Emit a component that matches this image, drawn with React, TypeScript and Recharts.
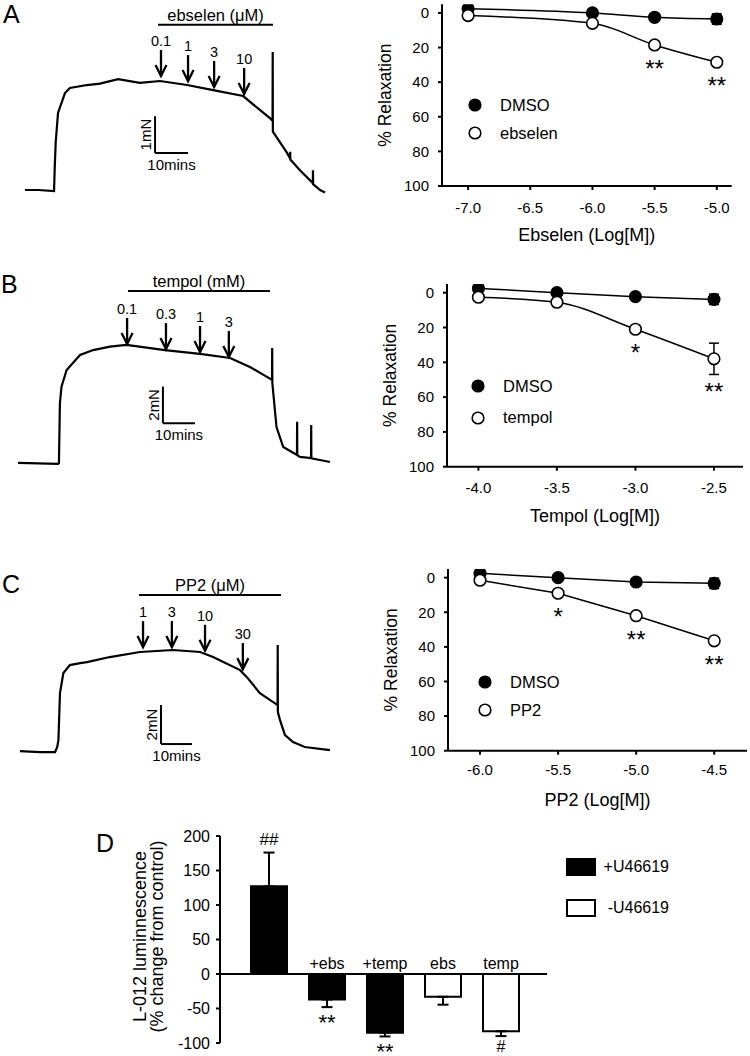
import React from 'react';
import {
  ComposedChart, BarChart, Bar, Line, Scatter, XAxis, YAxis, ReferenceLine,
  ErrorBar, LabelList, Legend, Cell,
} from 'recharts';

// ---------- tension traces: [time (min), force above baseline (mN)] ----------
const traceEbselen: [number, number][] = [
  [0, 0], [4, 0], [8.8, -0.03], [9.0, 0.6], [9.3, 1.3], [10.0, 2.1], [12.1, 2.64], [13.6, 2.78],
  [18.8, 2.86], [22.7, 2.9], [28.2, 3.02], [34.8, 2.92], [40.9, 2.97], [49.1, 2.86], [57.0, 2.72],
  [66.1, 2.56], [68.2, 2.4], [74.2, 1.96], [75.0, 1.88], [75.05, 3.76], [75.1, 1.59], [79.4, 1.01],
  [80.3, 0.86], [80.35, 1.04], [80.4, 0.83], [83.3, 0.54], [87.2, 0.19], [87.25, 0.54], [87.3, 0.16],
  [89.4, 0.0], [90.9, -0.07],
];
const traceTempol: [number, number][] = [
  [0, 0], [12.5, -0.05], [12.8, 0], [13.1, 3.26], [13.6, 4.16], [15.2, 5.07], [19.4, 5.89],
  [23.5, 6.16], [28.75, 6.35], [33.9, 6.44], [45.9, 6.16], [56.9, 5.95], [66.3, 5.73], [72.5, 5.24],
  [79.4, 4.53], [79.45, 6.27], [79.5, 4.36], [80.8, 1.96], [82.9, 0.87], [86.0, 0.56], [87.2, 0.44],
  [87.25, 2.25], [87.3, 0.42], [88.1, 0.33], [91.6, 0.27], [91.65, 2.07], [91.7, 0.25], [94.4, 0.16],
  [97.5, 0.05],
];
const tracePP2: [number, number][] = [
  [0, 0], [6.5, -0.05], [11.3, -0.05], [12.0, 0.2], [12.4, 0.56], [12.9, 2.97], [14.0, 4.0],
  [16.1, 4.41], [19.4, 4.51], [21.6, 4.56], [29.0, 4.82], [38.7, 5.08], [49.4, 5.18], [58.1, 5.08],
  [62.3, 4.82], [71.0, 4.15], [73.2, 3.79], [77.4, 2.97], [83.1, 2.36], [83.15, 5.44], [83.2, 2.0],
  [83.9, 1.59], [85.5, 0.82], [88.1, 0.46], [91.9, 0.21], [100, 0.05],
];

// dose additions on the traces
const dosesEbselen = ['0.1', '1', '3', '10'];
const doseTimesEbselen = [41.2, 49.4, 57.3, 66.4];
const doseLevelsEbselen = [3.08, 2.94, 2.78, 2.59];
const dosesTempol = ['0.1', '0.3', '1', '3'];
const doseTimesTempol = [34.1, 46.25, 56.9, 65.9];
const doseLevelsTempol = [6.44, 6.16, 6.0, 5.73];
const dosesPP2 = ['1', '3', '10', '30'];
const doseTimesPP2 = [39.7, 49.0, 59.7, 71.9];
const doseLevelsPP2 = [5.28, 5.28, 5.09, 4.15];

// ---------- concentration–response ----------
const logEbselen = [-7, -6, -5.5, -5];
const dmsoA = [-2.5, 0, 2.5, 3.5];
const dmsoErrA = [0.5, 0.5, 1, 3];
const ebselen = [1.5, 6, 18.5, 28.5];
const ebselenErr = [0.5, 1, 1.5, 1.5];
const sigEbselen = ['', '', '**', '**'];

const logTempol = [-4, -3.5, -3, -2.5];
const dmsoB = [-2.5, 0, 2.3, 3.8];
const dmsoErrB = [0.5, 0.5, 1, 3];
const tempol = [2.6, 5.5, 21, 38];
const tempolErr = [0.5, 1.5, 2, 9];
const sigTempol = ['', '', '*', '**'];

const logPP2 = [-6, -5.5, -5, -4.5];
const dmsoC = [-2.5, 0, 2.5, 3.3];
const dmsoErrC = [0.5, 0.5, 1, 3];
const pp2 = [1.5, 9, 22, 36.5];
const pp2Err = [0.5, 1, 1, 1.5];
const sigPP2 = ['', '*', '**', '**'];

const relaxTicks = [0, 20, 40, 60, 80, 100];

// ---------- L-012 luminescence ----------
const categories = ['', '+ebs', '+temp', 'ebs', 'temp'];
const lumValues = [127, -37, -85, -33, -83];
const lumErr = [49, 11, 5.5, 11.5, 7];
const lumSig = ['##', '**', '**', '', '#'];
const lumGroup = ['+U46619', '+U46619', '+U46619', '-U46619', '-U46619'];
const groups = ['+U46619', '-U46619'];
const groupFill: Record<string, string> = { '+U46619': '#000', '-U46619': '#fff' };
const lumTicks = [-100, -50, 0, 50, 100, 150, 200];

const FONT = '"Liberation Sans", Arial, sans-serif';
const AX = { stroke: '#000', strokeWidth: 2 };

const toPoints = (tr: [number, number][]) => tr.map(([t, f]) => ({ t, f }));
const toDoses = (labels: string[], times: number[], levels: number[]) =>
  labels.map((dose, i) => ({ t: times[i], f: levels[i], dose }));

function DoseArrow(props: any) {
  const { cx, cy, payload } = props;
  const top = cy - 27;
  return (
    <g>
      <line x1={cx} y1={top} x2={cx} y2={cy - 1} stroke="#000" strokeWidth={2.3} />
      <polyline points={`${cx - 5.5},${cy - 12} ${cx},${cy - 1} ${cx + 5.5},${cy - 12}`} fill="none" stroke="#000" strokeWidth={2.3} />
      <text x={cx} y={top - 4} textAnchor="middle" fontSize={14.5} fill="#000">{payload.dose}</text>
    </g>
  );
}

const vText = (text: string) => ({ viewBox }: any) => {
  const cx = viewBox.x - 9;
  const cy = viewBox.y + viewBox.height / 2;
  return (
    <text x={cx} y={cy} dy="0.35em" transform={`rotate(-90 ${cx} ${cy})`} textAnchor="middle" fontSize={15} fill="#000">
      {text}
    </text>
  );
};
const hText = (text: string, dy: number, size: number) => ({ viewBox }: any) => (
  <text x={viewBox.x + viewBox.width / 2} y={viewBox.y + dy} dy="0.35em" textAnchor="middle" fontSize={size} fill="#000">
    {text}
  </text>
);

interface TraceProps {
  top: number;
  height: number;
  xDomain: [number, number];
  yDomain: [number, number];
  trace: [number, number][];
  doses: { t: number; f: number; dose: string }[];
  drug: { from: number; to: number; level: number; label: string };
  bar: { t: number; f: number; mN: number };
}

function TracePanel({ top, height, xDomain, yDomain, trace, doses, drug, bar }: TraceProps) {
  return (
    <div style={{ position: 'absolute', left: 0, top }}>
      <ComposedChart width={360} height={height} margin={{ top: 0, right: 0, bottom: 0, left: 0 }}>
        <XAxis type="number" dataKey="t" domain={xDomain} hide allowDataOverflow />
        <YAxis type="number" dataKey="f" domain={yDomain} hide allowDataOverflow />
        <Line data={toPoints(trace)} dataKey="f" type="linear" stroke="#000" strokeWidth={2.2} dot={false} activeDot={false} isAnimationActive={false} />
        <ReferenceLine
          segment={[{ x: drug.from, y: drug.level }, { x: drug.to, y: drug.level }]}
          stroke="#000" strokeWidth={2}
          label={{ content: hText(drug.label, -10, 16.5) }}
        />
        <ReferenceLine
          segment={[{ x: bar.t, y: bar.f }, { x: bar.t, y: bar.f + bar.mN }]}
          stroke="#000" strokeWidth={2}
          label={{ content: vText(`${bar.mN}mN`) }}
        />
        <ReferenceLine
          segment={[{ x: bar.t, y: bar.f }, { x: bar.t + 10, y: bar.f }]}
          stroke="#000" strokeWidth={2}
          label={{ content: hText('10mins', 12, 15) }}
        />
        <Scatter data={doses} dataKey="f" shape={DoseArrow} isAnimationActive={false} />
      </ComposedChart>
    </div>
  );
}

function DoseLegend({ payload, rowH }: any) {
  return (
    <div>
      {(payload || []).map((e: any, i: number) => (
        <div key={i} style={{ display: 'flex', alignItems: 'center', height: rowH }}>
          <svg width={16} height={16}>
            <circle cx={8} cy={8} r={5.8} fill={i === 0 ? '#000' : '#fff'} stroke="#000" strokeWidth={1.6} />
          </svg>
          <span style={{ marginLeft: 17, fontSize: 16.5, lineHeight: 1 }}>{e.value}</span>
        </div>
      ))}
    </div>
  );
}

interface DoseProps {
  top: number;
  height: number;
  margin: { top: number; right: number; bottom: number; left: number };
  xDomain: [number, number];
  tickGap: number;
  xTitle: string;
  drugName: string;
  logM: number[];
  dmso: number[];
  dmsoErr: number[];
  drug: number[];
  drugErr: number[];
  sig: string[];
  curve: 'monotone' | 'linear';
  legend: { left: number; top: number; rowH: number };
}

function DoseChart(p: DoseProps) {
  const rows = p.logM.map((x, i) => ({
    x, dmso: p.dmso[i], dmsoErr: p.dmsoErr[i], drug: p.drug[i], drugErr: p.drugErr[i], sig: p.sig[i],
  }));
  const plotH = p.height - p.margin.top - p.margin.bottom - 60;
  const pxPerUnit = plotH / 105;
  const ticks = p.logM[0] === -7 ? [-7, -6.5, -6, -5.5, -5] : p.logM;

  const stars = (lp: any) => {
    const { index, value } = lp;
    if (!value) return null;
    const x = lp.x ?? lp.viewBox?.x;
    const y = lp.y ?? lp.viewBox?.y;
    const center = y + Math.max(7, p.drugErr[index] * pxPerUnit) + 11.5;
    return (
      <text x={x} y={center + 0.57 * 24} textAnchor="middle" fontSize={24} fill="#000">{value}</text>
    );
  };

  return (
    <div style={{ position: 'absolute', left: 360, top: p.top }}>
      <ComposedChart width={390} height={p.height} data={rows} margin={p.margin}>
        <XAxis
          type="number" dataKey="x" domain={p.xDomain} ticks={ticks} allowDataOverflow height={60}
          tickFormatter={(v: number) => v.toFixed(1)} tick={{ fontSize: 15, fill: '#000' }}
          tickSize={4} tickMargin={p.tickGap} axisLine={AX} tickLine={AX}
          label={{ content: ({ viewBox }: any) => (
            <text x={viewBox.x + viewBox.width / 2} y={viewBox.y + 49} dy="0.35em" textAnchor="middle" fontSize={18} fill="#000">
              {p.xTitle}
            </text>
          ) }}
        />
        <YAxis
          type="number" domain={[-5, 100]} ticks={relaxTicks} reversed allowDataOverflow width={60}
          tick={{ fontSize: 15, fill: '#000' }} tickSize={4} tickMargin={9} axisLine={AX} tickLine={AX}
          label={{ content: ({ viewBox }: any) => {
            const cx = viewBox.x + 3;
            const cy = viewBox.y + viewBox.height / 2;
            return (
              <text x={cx} y={cy} dy="0.35em" transform={`rotate(-90 ${cx} ${cy})`} textAnchor="middle" fontSize={17.5} fill="#000">
                % Relaxation
              </text>
            );
          } }}
        />
        <Line
          name="DMSO" dataKey="dmso" type={p.curve} stroke="#000" strokeWidth={1.5} isAnimationActive={false}
          dot={{ r: 5.8, fill: '#000', stroke: '#000', strokeWidth: 1.6 }} activeDot={false}
        >
          <ErrorBar dataKey="dmsoErr" direction="y" width={5} stroke="#000" strokeWidth={1.5} />
        </Line>
        <Line
          name={p.drugName} dataKey="drug" type={p.curve} stroke="#000" strokeWidth={1.5} isAnimationActive={false}
          dot={{ r: 5.8, fill: '#fff', stroke: '#000', strokeWidth: 1.6 }} activeDot={false}
        >
          <ErrorBar dataKey="drugErr" direction="y" width={5} stroke="#000" strokeWidth={1.5} />
          <LabelList dataKey="sig" content={stars} />
        </Line>
        <Legend
          layout="vertical" align="center" verticalAlign="middle"
          wrapperStyle={{ left: p.legend.left, top: p.legend.top }}
          content={(lp: any) => <DoseLegend {...lp} rowH={p.legend.rowH} />}
        />
      </ComposedChart>
    </div>
  );
}

const LUM_PX = 207 / 300;

function LumLegend() {
  return (
    <div>
      {groups.map((g, i) => (
        <div key={g} style={{ display: 'flex', alignItems: 'center', height: 18, marginBottom: i === 0 ? 23 : 0 }}>
          <div style={{ width: 30, height: 18, boxSizing: 'border-box', background: groupFill[g], border: '2px solid #000' }} />
          <span style={{ width: 73, textAlign: 'right', fontSize: 16, lineHeight: 1 }}>{g}</span>
        </div>
      ))}
    </div>
  );
}

function LumChart() {
  const rows = categories.map((name, i) => ({
    name,
    value: lumValues[i],
    err: lumValues[i] >= 0 ? [0, lumErr[i]] : [lumErr[i], 0],
  }));

  const notes = (lp: any) => {
    const { x, y, width, height, index } = lp;
    const v = lumValues[index];
    const yA = Math.min(y, y + height);
    const yB = Math.max(y, y + height);
    const zeroY = v >= 0 ? yB : yA;
    const endY = v >= 0 ? yA : yB;
    const errPx = lumErr[index] * LUM_PX;
    const cx = x + width / 2;
    const sig = lumSig[index];
    let sigEl = null;
    if (sig) {
      if (v >= 0) {
        const c = endY - errPx - 14;
        sigEl = <text x={cx} y={c + 0.35 * 17} textAnchor="middle" fontSize={17} fill="#000">{sig}</text>;
      } else if (sig.startsWith('*')) {
        const c = endY + errPx + 10;
        sigEl = <text x={cx} y={c + 0.57 * 22} textAnchor="middle" fontSize={22} fill="#000">{sig}</text>;
      } else {
        const c = endY + errPx + 10;
        sigEl = <text x={cx} y={c + 0.35 * 16} textAnchor="middle" fontSize={16} fill="#000">{sig}</text>;
      }
    }
    return (
      <g>
        {categories[index] && (
          <text x={cx} y={zeroY - 5} textAnchor="middle" fontSize={16} fill="#000">{categories[index]}</text>
        )}
        {sigEl}
      </g>
    );
  };

  return (
    <div style={{ position: 'absolute', left: 0, top: 820 }}>
      <BarChart width={750} height={236} data={rows} margin={{ top: 16, right: 203, bottom: 13, left: 160 }}>
        <XAxis dataKey="name" hide padding={{ left: 20, right: 17 }} />
        <YAxis
          type="number" domain={[-100, 200]} ticks={lumTicks} width={60} allowDataOverflow
          tick={{ fontSize: 16, fill: '#000' }} tickSize={4} tickMargin={6} axisLine={AX} tickLine={AX}
          label={{ content: ({ viewBox }: any) => {
            const cy = viewBox.y + viewBox.height / 2 - 3;
            const x1 = viewBox.x - 20;
            const x2 = viewBox.x - 3;
            return (
              <g>
                <text x={x1} y={cy} dy="0.35em" transform={`rotate(-90 ${x1} ${cy})`} textAnchor="middle" fontSize={18} fill="#000">
                  L-012 luminnescence
                </text>
                <text x={x2} y={cy} dy="0.35em" transform={`rotate(-90 ${x2} ${cy})`} textAnchor="middle" fontSize={18} fill="#000">
                  (% change from control)
                </text>
              </g>
            );
          } }}
        />
        <ReferenceLine y={0} stroke="#000" strokeWidth={2} />
        <Bar dataKey="value" barSize={36} stroke="#000" strokeWidth={2} isAnimationActive={false}>
          {rows.map((r, i) => <Cell key={r.name + i} fill={groupFill[lumGroup[i]]} />)}
          <ErrorBar dataKey="err" direction="y" width={5.5} stroke="#000" strokeWidth={2} />
          <LabelList dataKey="value" content={notes} />
        </Bar>
        <Legend
          layout="vertical" align="center" verticalAlign="middle"
          wrapperStyle={{ left: 566, top: 38 }}
          content={() => <LumLegend />}
        />
      </BarChart>
    </div>
  );
}

const letter = (ch: string, left: number, top: number) => (
  <div style={{ position: 'absolute', left, top, fontSize: 25, lineHeight: 1 }}>{ch}</div>
);

export default function App() {
  return (
    <div style={{ position: 'absolute', left: 0, top: 0, width: 750, height: 1056, background: '#fff', fontFamily: FONT, color: '#000' }}>
      <TracePanel
        top={0} height={210} xDomain={[-7.58, 101.5]} yDomain={[-0.545, 5.177]}
        trace={traceEbselen} doses={toDoses(dosesEbselen, doseTimesEbselen, doseLevelsEbselen)}
        drug={{ from: 40.3, to: 75.15, level: 4.5, label: 'ebselen (μM)' }}
        bar={{ t: 39.4, f: 1.01, mN: 1 }}
      />
      <TracePanel
        top={270} height={210} xDomain={[-5.625, 106.9]} yDomain={[-0.93, 10.53]}
        trace={traceTempol} doses={toDoses(dosesTempol, doseTimesTempol, doseLevelsTempol)}
        drug={{ from: 34.4, to: 78.75, level: 9.38, label: 'tempol (mM)' }}
        bar={{ t: 45.3, f: 2.17, mN: 2 }}
      />
      <TracePanel
        top={540} height={230} xDomain={[-6.45, 109.7]} yDomain={[-0.97, 10.82]}
        trace={tracePP2} doses={toDoses(dosesPP2, doseTimesPP2, doseLevelsPP2)}
        drug={{ from: 38.4, to: 84.2, level: 8.0, label: 'PP2 (μM)' }}
        bar={{ t: 45.5, f: 0.36, mN: 2 }}
      />

      <DoseChart
        top={0} height={260} margin={{ top: 4.3, right: 18.3, bottom: 14, left: 22 }}
        xDomain={[-7.21, -4.88]} tickGap={12} xTitle="Ebselen (Log[M])" drugName="ebselen"
        logM={logEbselen} dmso={dmsoA} dmsoErr={dmsoErrA} drug={ebselen} drugErr={ebselenErr} sig={sigEbselen}
        curve="monotone" legend={{ left: 107, top: 91, rowH: 28 }}
      />
      <DoseChart
        top={270} height={270} margin={{ top: 14, right: 7, bottom: 13.3, left: 27 }}
        xDomain={[-4.2, -2.315]} tickGap={12} xTitle="Tempol (Log[M])" drugName="tempol"
        logM={logTempol} dmso={dmsoB} dmsoErr={dmsoErrB} drug={tempol} drugErr={tempolErr} sig={sigTempol}
        curve="monotone" legend={{ left: 110, top: 100, rowH: 31.7 }}
      />
      <DoseChart
        top={540} height={280} margin={{ top: 29, right: 3, bottom: 9.3, left: 28 }}
        xDomain={[-6.205, -4.29]} tickGap={10} xTitle="PP2 (Log[M])" drugName="PP2"
        logM={logPP2} dmso={dmsoC} dmsoErr={dmsoErrC} drug={pp2} drugErr={pp2Err} sig={sigPP2}
        curve="linear" legend={{ left: 117, top: 128, rowH: 28.3 }}
      />

      <LumChart />

      {letter('A', 3, 2)}
      {letter('B', 1, 272)}
      {letter('C', 2, 572)}
      {letter('D', 96, 831)}
    </div>
  );
}
